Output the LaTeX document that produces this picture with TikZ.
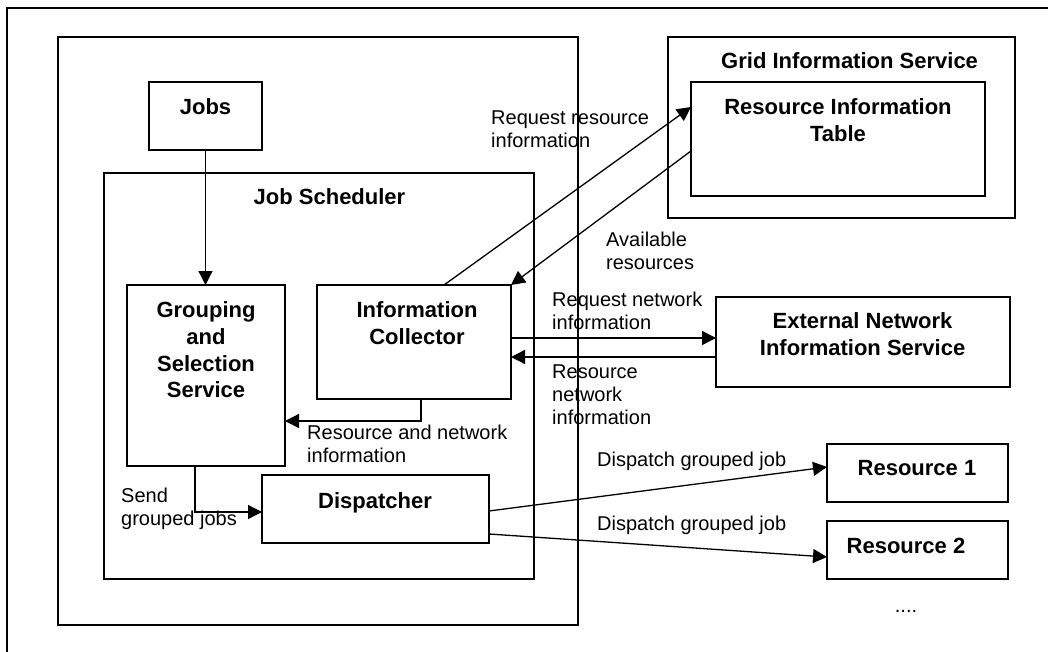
\documentclass[tikz,border=0pt]{standalone}
\usepackage{fontspec}
\setmainfont{Liberation Sans}
\usetikzlibrary{arrows.meta}
\begin{document}
\begin{tikzpicture}[x=1pt,y=-1pt,
  box/.style={draw,line width=1.5pt,inner sep=0pt,outer sep=0pt},
  arr/.style={line width=1.3pt,-{Triangle[length=14pt,width=14pt]}},
  lbl/.style={inner sep=0pt,align=left,font=\fontsize{20}{23}\selectfont},
  btxt/.style={inner sep=0pt,align=center,font=\fontsize{22}{26.7}\selectfont\bfseries}]
\useasboundingbox (0,0) rectangle (1048,652);
% outer frame
\draw[line width=1.5pt] (7,652) -- (7,8) -- (1048,8);
% boxes
\node[box,minimum width=520pt,minimum height=588pt] (left) at (318,331) {};
\node[box,minimum width=113pt,minimum height=68pt] (jobs) at (205.5,116) {};
\node[box,minimum width=430pt,minimum height=406pt] (sched) at (319,376) {};
\node[box,minimum width=158pt,minimum height=181pt] (grp) at (206,375.5) {};
\node[box,minimum width=194pt,minimum height=114pt] (ic) at (414,342) {};
\node[box,minimum width=227pt,minimum height=68pt] (disp) at (375.5,509) {};
\node[box,minimum width=347pt,minimum height=181pt] (gis) at (841.5,127.5) {};
\node[box,minimum width=294pt,minimum height=114pt] (rit) at (838,139) {};
\node[box,minimum width=294pt,minimum height=90pt] (enis) at (863,342) {};
\node[box,minimum width=181pt,minimum height=58pt] (r1) at (917.5,473) {};
\node[box,minimum width=181pt,minimum height=58pt] (r2) at (917.5,550) {};
% box texts
\node[btxt,anchor=base] (tjobs) at (205.5,114.5) {Jobs};
\node[btxt,anchor=base] (tsched) at (329.5,204.5) {Job Scheduler};
\node[btxt,anchor=base] (tgis) at (849.6,68.5) {Grid Information Service};
\node[btxt,anchor=north] (trit) at (838,98.5) {Resource Information\\Table};
\node[btxt,anchor=north] (tgrp) at (206,301.5) {Grouping\\and\\Selection\\Service};
\node[btxt,anchor=north] (tic) at (417,301.5) {Information\\Collector};
\node[btxt,anchor=base] (tdisp) at (375,508.5) {Dispatcher};
\node[btxt,anchor=north] (tenis) at (862.6,312.5) {External Network\\Information Service};
\node[btxt,anchor=base] (tr1) at (917,475.5) {Resource 1};
\node[btxt,anchor=base] (tr2) at (906,553.5) {Resource 2};
% connectors
\draw[arr] (jobs.south) -- (jobs.south |- grp.north);
\draw[arr] ([xshift=127pt]ic.north west) -- ([yshift=-25pt]rit.north west);
\draw[arr] ([yshift=-69pt]rit.north west) -- (ic.north east);
\draw[arr] ([yshift=-53pt]ic.north east) -- ([yshift=-41pt]enis.north west);
\draw[arr] ([yshift=-60pt]enis.north west) -- ([yshift=-72pt]ic.north east);
\draw[arr] ([xshift=7pt]ic.south) |- ([yshift=-136pt]grp.north east);
\draw[arr] ([xshift=-11pt]grp.south) |- ([yshift=-3pt]disp.west);
\draw[arr] ([yshift=-36pt]disp.north east) -- ([yshift=-23pt]r1.north west);
\draw[arr] ([yshift=-59pt]disp.north east) -- ([yshift=-36pt]r2.north west);
% labels
\node[lbl,anchor=north west] (lreqres) at (491,110.5) {Request resource\\information};
\node[lbl,anchor=north west] (lavail) at (606,231.5) {Available\\resources};
\node[lbl,anchor=north west] (lreqnet) at (552,291.5) {Request network\\information};
\node[lbl,anchor=north west] (lresnet) at (552,364.5) {Resource\\network\\information};
\node[lbl,anchor=north west] (lrn) at (307,424.5) {Resource and network\\information};
\node[lbl,anchor=north west] (lsend) at (121,487.5) {Send\\grouped jobs};
\node[lbl,anchor=north west] (ld1) at (597,451.5) {Dispatch grouped job};
\node[lbl,anchor=north west] (ld2) at (597,515.5) {Dispatch grouped job};
\node[lbl,anchor=base] (dots) at (906,612) {....};
\end{tikzpicture}
\end{document}
